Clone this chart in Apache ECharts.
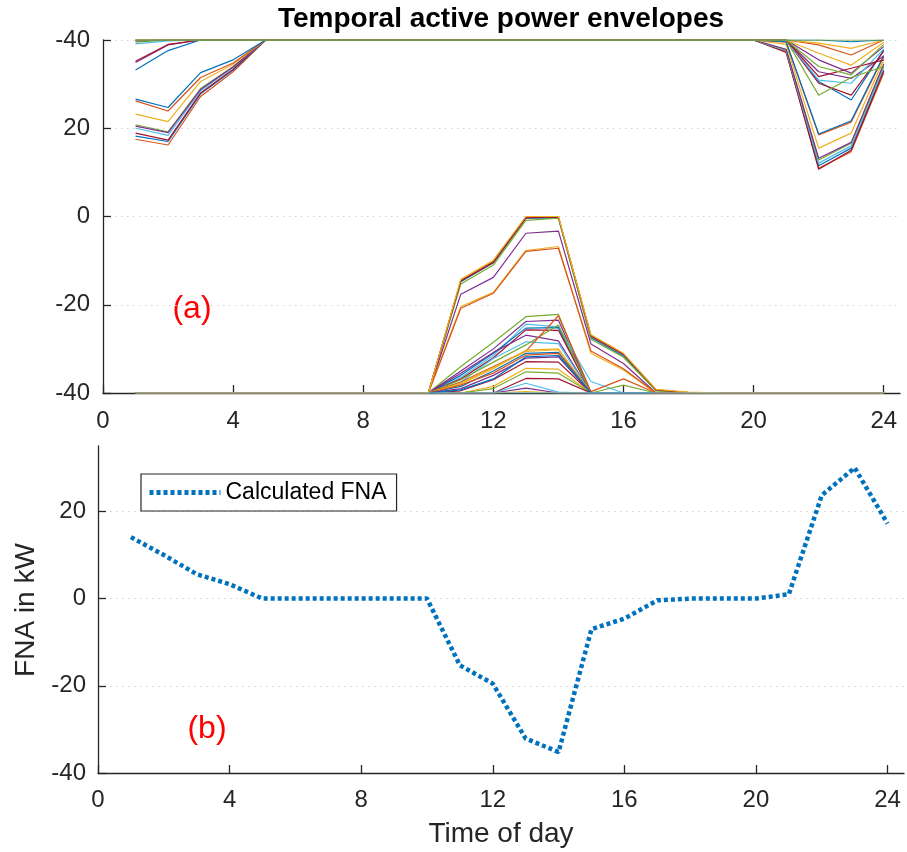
<!DOCTYPE html>
<html>
<head>
<meta charset="utf-8">
<script src="https://cdn.jsdelivr.net/npm/echarts@6/dist/echarts.min.js"></script>
<style>
html,body{margin:0;padding:0;background:#fff;}
#chart{width:907px;height:852px;}
</style>
</head>
<body>
<div id="chart"></div>
<script>
// ---------- DATA ----------
const hours = [1,2,3,4,5,6,7,8,9,10,11,12,13,14,15,16,17,18,19,20,21,22,23,24];
const xTicks = [0,4,8,12,16,20,24];
const yTicksTop = [-40,-20,0,20,40];
const yTicksBottom = [-40,-20,0,20];

// upper active power envelopes (kW), hours 1..24
const up01 = [17.5,16.2,27.2,32.8,40,40,40,40,40,40,40,40,40,40,40,40,40,40,40,40,37.2,10.9,14.7,32.5];
const up02 = [18.2,17.0,27.8,33.2,40,40,40,40,40,40,40,40,40,40,40,40,40,40,40,40,37.4,11.5,15.5,33.2];
const up03 = [18.9,17.3,28.0,33.4,40,40,40,40,40,40,40,40,40,40,40,40,40,40,40,40,37.3,10.7,15.0,33.0];
const up04 = [20.0,18.4,28.5,33.8,40,40,40,40,40,40,40,40,40,40,40,40,40,40,40,40,37.6,12.1,16.0,33.8];
const up05 = [20.8,19.2,29.0,34.0,40,40,40,40,40,40,40,40,40,40,40,40,40,40,40,40,37.8,12.8,16.6,34.2];
const up06 = [20.5,19.0,28.8,33.9,40,40,40,40,40,40,40,40,40,40,40,40,40,40,40,40,37.9,13.2,16.8,34.6];
const up07 = [23.2,21.5,30.6,34.5,40,40,40,40,40,40,40,40,40,40,40,40,40,40,40,40,39.0,15.5,18.9,35.5];
const up08 = [26.2,23.9,31.5,34.8,40,40,40,40,40,40,40,40,40,40,40,40,40,40,40,40,39.5,18.5,21.4,36.2];
const up09 = [26.6,24.7,32.6,35.5,40,40,40,40,40,40,40,40,40,40,40,40,40,40,40,40,39.6,18.7,21.7,36.5];
const up10 = [33.2,37.6,40,40,40,40,40,40,40,40,40,40,40,40,40,40,40,40,40,40,40,30.6,26.4,37.7];
const up11 = [34.9,38.9,40,40,40,40,40,40,40,40,40,40,40,40,40,40,40,40,40,40,40,32.8,31.3,36.4];
const up12 = [35.2,39.0,40,40,40,40,40,40,40,40,40,40,40,40,40,40,40,40,40,40,40,30.2,27.5,37.5];
const up13 = [39.1,39.8,40,40,40,40,40,40,40,40,40,40,40,40,40,40,40,40,40,40,40,30.9,30.2,38.0];
const up14 = [39.5,40,40,40,40,40,40,40,40,40,40,40,40,40,40,40,40,40,40,40,40,27.5,31.5,34.0];
const up15 = [39.8,40,40,40,40,40,40,40,40,40,40,40,40,40,40,40,40,40,40,40,40,35.5,32.5,38.5];
const up16 = [40,40,40,40,40,40,40,40,40,40,40,40,40,40,40,40,40,40,40,40,40,31.7,33.6,35.5];
const up17 = [40,40,40,40,40,40,40,40,40,40,40,40,40,40,40,40,40,40,40,40,40,34.0,32.1,39.0];
const up18 = [40,40,40,40,40,40,40,40,40,40,40,40,40,40,40,40,40,40,40,40,40,37.0,34.3,39.5];
const up19 = [40,40,40,40,40,40,40,40,40,40,40,40,40,40,40,40,40,40,40,40,40,38.9,36.6,40];
const up20 = [40,40,40,40,40,40,40,40,40,40,40,40,40,40,40,40,40,40,40,40,40,39.3,38.1,40];
const up21 = [40,40,40,40,40,40,40,40,40,40,40,40,40,40,40,40,40,40,40,40,40,40,39.6,40];
const up22 = [40,40,40,40,40,40,40,40,40,40,40,40,40,40,40,40,40,40,40,40,40,40,40,40];

// lower active power envelopes (kW), hours 1..24
const lo09 = [-40,-40,-40,-40,-40,-40,-40,-40,-40,-40,-34.0,-28.5,-22.7,-22.2,-40,-40,-40,-40,-40,-40,-40,-40,-40,-40];
const lo10 = [-40,-40,-40,-40,-40,-40,-40,-40,-40,-40,-35.0,-30.0,-23.8,-23.5,-40,-40,-40,-40,-40,-40,-40,-40,-40,-40];
const lo11 = [-40,-40,-40,-40,-40,-40,-40,-40,-40,-40,-36.5,-31.5,-24.4,-25.0,-37.4,-40,-40,-40,-40,-40,-40,-40,-40,-40];
const lo12 = [-40,-40,-40,-40,-40,-40,-40,-40,-40,-40,-36.0,-31.0,-25.3,-25.2,-40,-40,-40,-40,-40,-40,-40,-40,-40,-40];
const lo13 = [-40,-40,-40,-40,-40,-40,-40,-40,-40,-40,-36.8,-32.0,-25.7,-25.8,-40,-40,-40,-40,-40,-40,-40,-40,-40,-40];
const lo14 = [-40,-40,-40,-40,-40,-40,-40,-40,-40,-40,-35.5,-30.8,-26.9,-28.2,-40,-40,-40,-40,-40,-40,-40,-40,-40,-40];
const lo15 = [-40,-40,-40,-40,-40,-40,-40,-40,-40,-40,-37.5,-32.2,-28.4,-28.8,-40,-40,-40,-40,-40,-40,-40,-40,-40,-40];
const lo16 = [-40,-40,-40,-40,-40,-40,-40,-40,-40,-40,-37.0,-33.0,-29.1,-24.6,-40,-40,-40,-40,-40,-40,-40,-40,-40,-40];
const lo17 = [-40,-40,-40,-40,-40,-40,-40,-40,-40,-40,-37.5,-34.0,-30.5,-22.5,-39.7,-36.8,-40,-40,-40,-40,-40,-40,-40,-40];
const lo18 = [-40,-40,-40,-40,-40,-40,-40,-40,-40,-40,-38.0,-34.5,-30.3,-30.0,-40,-40,-40,-40,-40,-40,-40,-40,-40,-40];
const lo19 = [-40,-40,-40,-40,-40,-40,-40,-40,-40,-40,-37.8,-34.2,-30.6,-30.2,-40,-40,-40,-40,-40,-40,-40,-40,-40,-40];
const lo20 = [-40,-40,-40,-40,-40,-40,-40,-40,-40,-40,-38.5,-35.0,-31.0,-30.8,-40,-40,-40,-40,-40,-40,-40,-40,-40,-40];
const lo21 = [-40,-40,-40,-40,-40,-40,-40,-40,-40,-40,-38.2,-35.5,-31.4,-31.0,-40,-40,-40,-40,-40,-40,-40,-40,-40,-40];
const lo22 = [-40,-40,-40,-40,-40,-40,-40,-40,-40,-40,-39.0,-36.0,-32.1,-31.8,-40,-40,-40,-40,-40,-40,-40,-40,-40,-40];
const lo23 = [-40,-40,-40,-40,-40,-40,-40,-40,-40,-40,-39.5,-37.0,-32.9,-33.0,-40,-40,-40,-40,-40,-40,-40,-40,-40,-40];
const lo24 = [-40,-40,-40,-40,-40,-40,-40,-40,-40,-40,-40,-38.5,-34.4,-34.6,-40,-40,-40,-40,-40,-40,-40,-40,-40,-40];
const lo25 = [-40,-40,-40,-40,-40,-40,-40,-40,-40,-40,-40,-39.0,-35.2,-35.5,-40,-38.2,-40,-40,-40,-40,-40,-40,-40,-40];
const lo26 = [-40,-40,-40,-40,-40,-40,-40,-40,-40,-40,-40,-40,-36.7,-36.8,-40,-40,-40,-40,-40,-40,-40,-40,-40,-40];
const lo27 = [-40,-40,-40,-40,-40,-40,-40,-40,-40,-40,-40,-40,-37.8,-39.8,-40,-40,-40,-40,-40,-40,-40,-40,-40,-40];
const lo28 = [-40,-40,-40,-40,-40,-40,-40,-40,-40,-40,-40,-40,-38.9,-40,-40,-40,-40,-40,-40,-40,-40,-40,-40,-40];
const lo29 = [-40,-40,-40,-40,-40,-40,-40,-40,-40,-40,-40,-40,-39.7,-40,-40,-40,-40,-40,-40,-40,-40,-40,-40,-40];
const lo30 = [-40,-40,-40,-40,-40,-40,-40,-40,-40,-40,-39.3,-36.8,-31.8,-31.5,-40,-40,-40,-40,-40,-40,-40,-40,-40,-40];
const lo02 = [-40,-40,-40,-40,-40,-40,-40,-40,-40,-40,-14.5,-10.2,-0.2,-0.2,-27.2,-31.3,-39.3,-39.9,-40,-40,-40,-40,-40,-40];
const lo03 = [-40,-40,-40,-40,-40,-40,-40,-40,-40,-40,-14.8,-10.5,-0.4,-0.3,-27.5,-31.6,-39.4,-40,-40,-40,-40,-40,-40,-40];
const lo04 = [-40,-40,-40,-40,-40,-40,-40,-40,-40,-40,-15.3,-11.0,-0.9,-0.4,-27.8,-31.9,-39.5,-40,-40,-40,-40,-40,-40,-40];
const lo05 = [-40,-40,-40,-40,-40,-40,-40,-40,-40,-40,-14.6,-10.4,-0.3,-0.1,-27.0,-31.2,-39.3,-39.9,-40,-40,-40,-40,-40,-40];
const lo06 = [-40,-40,-40,-40,-40,-40,-40,-40,-40,-40,-17.6,-13.8,-3.8,-3.3,-28.9,-33.3,-40,-40,-40,-40,-40,-40,-40,-40];
const lo07 = [-40,-40,-40,-40,-40,-40,-40,-40,-40,-40,-20.4,-17.2,-7.7,-6.8,-31.0,-34.8,-40,-40,-40,-40,-40,-40,-40,-40];
const lo08 = [-40,-40,-40,-40,-40,-40,-40,-40,-40,-40,-20.8,-17.4,-7.9,-7.2,-30.5,-34.5,-40,-40,-40,-40,-40,-40,-40,-40];
const lo01 = [-40,-40,-40,-40,-40,-40,-40,-40,-40,-40,-14.2,-9.9,0,0,-26.8,-31.0,-39.2,-39.8,-40,-40,-40,-40,-40,-40];
const lo31 = [-40,-40,-40,-40,-40,-40,-40,-40,-40,-40,-40,-40,-40,-40,-40,-40,-40,-40,-40,-40,-40,-40,-40,-40];

// calculated FNA (kW), hours 1..24
const fna = [14.1,10.0,5.6,3.3,0,0,0,0,0,0,-15.3,-19.5,-32.1,-35.2,-7.0,-4.6,-0.4,0,0,0,1.0,23.7,30.0,17.2];

// ---------- STYLE ----------
const C = {b:'#0072BD', r:'#D95319', y:'#EDB120', p:'#7E2F8E', g:'#77AC30', c:'#4DBEEE', d:'#A2142F'};
const envelopes = [
  [up01,C.r],[up02,C.b],[up03,C.d],[up04,C.c],[up05,C.g],[up06,C.p],[up07,C.y],[up08,C.r],[up09,C.b],
  [up10,C.b],[up11,C.p],[up12,C.d],[up13,C.c],[up14,C.g],[up15,C.p],[up16,C.d],[up17,C.g],[up18,C.y],
  [up19,C.r],[up20,C.y],[up21,C.b],[up22,C.g],
  [lo09,C.g],[lo10,C.p],[lo11,C.c],[lo12,C.b],[lo13,C.d],[lo14,C.p],[lo15,C.c],[lo16,C.g],[lo17,C.r],
  [lo18,C.y],[lo19,C.y],[lo20,C.b],[lo21,C.r],[lo22,C.p],[lo23,C.d],[lo24,C.y],[lo25,C.g],[lo26,C.d],
  [lo27,C.c],[lo28,C.p],[lo29,C.y],[lo30,C.b],
  [lo02,C.r],[lo03,C.b],[lo04,C.g],[lo05,C.d],[lo06,C.p],[lo07,C.y],[lo08,C.r],[lo01,C.y],[lo31,C.c]
];

const FONT = 'Liberation Sans, Arial, Helvetica, sans-serif';
const AX = '#262626';
const gridLine = {show:true, lineStyle:{color:'#d4d4d4', width:1.2, type:[1.5,4.5]}};

function pairs(vals){ return hours.map((h,i)=>[h, vals[i]]); }

const series = envelopes.map((e,i)=>({
  type:'line', xAxisIndex:0, yAxisIndex:0, data:pairs(e[0]),
  symbol:'none', silent:true, lineStyle:{color:e[1], width:1.2}, itemStyle:{color:e[1]}, z:2
}));
series.push({
  name:'Calculated FNA', type:'line', xAxisIndex:1, yAxisIndex:1, data:pairs(fna),
  symbol:'none', silent:true,
  lineStyle:{color:'#0072BD', width:4.5, type:[4,3], cap:'butt'}, itemStyle:{color:'#0072BD'}
});

function xAxisCfg(gi, margin){
  return {
    type:'value', gridIndex:gi, min:0, max:24.5,
    axisLine:{show:true, onZero:false, lineStyle:{color:AX, width:1.3}},
    axisTick:{show:true, inside:true, length:8, customValues:xTicks, lineStyle:{color:AX, width:1.3}},
    axisLabel:{customValues:xTicks, margin:margin, color:AX, fontSize:24, fontFamily:FONT},
    splitLine:{show:false}
  };
}
function yAxisCfg(gi, min, max, ticks, fmt, margin){
  return {
    type:'value', gridIndex:gi, min:min, max:max,
    axisLine:{show:true, onZero:false, lineStyle:{color:AX, width:1.3}},
    axisTick:{show:true, inside:true, length:8, customValues:ticks, lineStyle:{color:AX, width:1.3}},
    axisLabel:{customValues:ticks, margin:margin, color:AX, fontSize:24, fontFamily:FONT, formatter:fmt},
    splitLine:gridLine
  };
}

const chart = echarts.init(document.getElementById('chart'), null, {renderer:'canvas'});
chart.setOption({
  animation:false,
  backgroundColor:'#ffffff',
  grid:[
    {left:103, top:40, width:797, height:353},
    {left:98, top:446, width:806, height:327}
  ],
  xAxis:[xAxisCfg(0,16), xAxisCfg(1,15)],
  yAxis:[
    yAxisCfg(0,-40,40,yTicksTop,function(v){ return v===40 ? '-40' : String(v); },13),
    yAxisCfg(1,-40,35,yTicksBottom,function(v){ return String(v); },12)
  ],
  legend:{
    data:['Calculated FNA'], left:141, top:474,
    orient:'horizontal', padding:[7,10,7,6],
    itemWidth:71, itemHeight:14, itemGap:6,
    borderColor:AX, borderWidth:1.2, backgroundColor:'#fff',
    itemStyle:{color:'transparent', borderColor:'transparent', borderWidth:0, opacity:0},
    lineStyle:{color:'#0072BD', width:5, type:[4,3], cap:'butt'},
    textStyle:{fontSize:23, fontFamily:FONT, color:'#000'}
  },
  graphic:[
    {type:'text', x:501, y:19, style:{text:'Temporal active power envelopes', font:'bold 28px '+FONT, fill:'#000', align:'center', verticalAlign:'middle'}},
    {type:'text', x:192, y:309, style:{text:'(a)', font:'32px '+FONT, fill:'#ff0000', align:'center', verticalAlign:'middle'}},
    {type:'text', x:207, y:729, style:{text:'(b)', font:'32px '+FONT, fill:'#ff0000', align:'center', verticalAlign:'middle'}},
    {type:'text', x:26, y:610, rotation:Math.PI/2, style:{text:'FNA in kW', font:'28px '+FONT, fill:AX, align:'center', verticalAlign:'middle'}},
    {type:'text', x:501, y:834, style:{text:'Time of day', font:'28px '+FONT, fill:AX, align:'center', verticalAlign:'middle'}}
  ],
  series:series
});
</script>
</body>
</html>
